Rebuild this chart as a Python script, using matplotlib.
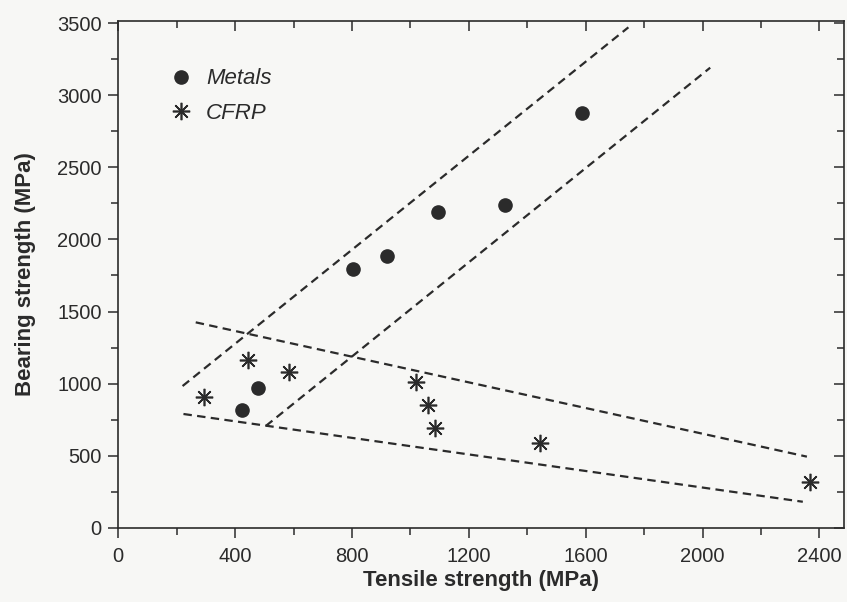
import matplotlib
matplotlib.use("Agg")
import matplotlib.pyplot as plt
from matplotlib.lines import Line2D

plt.rcParams['font.family'] = ['Liberation Sans', 'DejaVu Sans']

# Data (MPa)
metals_tensile = [422, 477, 805, 919, 1093, 1325, 1586]
metals_bearing = [815, 971, 1793, 1885, 2191, 2241, 2880]

cfrp_tensile = [294, 445, 584, 1019, 1061, 1084, 1444, 2366]
cfrp_bearing = [909, 1164, 1078, 1013, 849, 690, 585, 319]

# Dashed envelope lines: (x-start, x-end), (y-start, y-end)
metals_upper_x = [220, 1746]
metals_upper_y = [983, 3472]
metals_lower_x = [505, 2026]
metals_lower_y = [706, 3192]
cfrp_upper_x = [265, 2357]
cfrp_upper_y = [1425, 493]
cfrp_lower_x = [223, 2343]
cfrp_lower_y = [789, 180]

x_ticks = [0, 400, 800, 1200, 1600, 2000, 2400]
x_minor = [200, 600, 1000, 1400, 1800, 2200]
y_ticks = [0, 500, 1000, 1500, 2000, 2500, 3000, 3500]
y_minor = [250, 750, 1250, 1750, 2250, 2750, 3250]

ink = '#2b2b2b'
bg = '#f7f7f5'

fig = plt.figure(figsize=(8.47, 6.02), dpi=100, facecolor=bg)
ax = fig.add_axes([118.3/847, 1-527.7/602, 726/847, 507/602], facecolor=bg)

dash = (0, (3.8, 2.4))
for xs, ys in [(metals_upper_x, metals_upper_y), (metals_lower_x, metals_lower_y),
               (cfrp_upper_x, cfrp_upper_y), (cfrp_lower_x, cfrp_lower_y)]:
    ax.plot(xs, ys, color=ink, lw=1.6, linestyle=dash)

ax.plot(metals_tensile, metals_bearing, linestyle='none', marker='o', ms=9.5,
        color=ink, mec=ink)
ax.plot(cfrp_tensile, cfrp_bearing, linestyle='none', marker=(8, 2, 0), ms=12.5,
        color=ink, mew=1.2)

ax.set_xlim(0, 2485)
ax.set_ylim(0, 3518)
ax.set_xticks(x_ticks)
ax.set_yticks(y_ticks)
ax.set_xticks(x_minor, minor=True)
ax.set_yticks(y_minor, minor=True)

for side in ['left', 'right', 'top', 'bottom']:
    ax.spines[side].set_color(ink)
    ax.spines[side].set_linewidth(1.2)

ax.tick_params(axis='both', which='both', colors=ink, width=1.1)
ax.tick_params(axis='both', which='major', length=7, labelsize=14.5)
ax.tick_params(axis='both', which='minor', length=5)
ax.tick_params(axis='x', which='major', pad=7)
ax.tick_params(axis='y', which='major', pad=5)
# mirror ticks on top/right pointing inward
secx = ax.secondary_xaxis('top')
secx.set_xticks(x_ticks)
secx.set_xticks(x_minor, minor=True)
secx.tick_params(which='both', direction='in', colors=ink, width=1.1, labeltop=False)
secx.tick_params(which='major', length=7)
secx.tick_params(which='minor', length=5)
secx.spines['top'].set_visible(False)
secy = ax.secondary_yaxis('right')
secy.set_yticks(y_ticks)
secy.set_yticks(y_minor, minor=True)
secy.tick_params(which='both', direction='in', colors=ink, width=1.1, labelright=False)
secy.tick_params(which='major', length=7)
secy.tick_params(which='minor', length=5)
secy.spines['right'].set_visible(False)

for lab in ax.get_xticklabels() + ax.get_yticklabels():
    lab.set_color(ink)

ax.set_xlabel('Tensile strength (MPa)', fontsize=16, fontweight='bold', color=ink, labelpad=3)
ax.set_ylabel('Bearing strength (MPa)', fontsize=16, fontweight='bold', color=ink, labelpad=15)

handles = [
    Line2D([], [], linestyle='none', marker='o', ms=9.5, color=ink),
    Line2D([], [], linestyle='none', marker=(8, 2, 0), ms=12.5, color=ink, mew=1.2),
]
leg = ax.legend(handles, ['Metals', 'CFRP'], loc='upper left',
                bbox_to_anchor=(0.0712, 0.906), frameon=False, borderpad=0,
                borderaxespad=0, handlelength=1.0, handletextpad=0.63,
                labelspacing=0.62, prop={'style': 'italic', 'size': 16})
for t in leg.get_texts():
    t.set_color(ink)

fig.savefig('out.png', dpi=100, facecolor=bg)
